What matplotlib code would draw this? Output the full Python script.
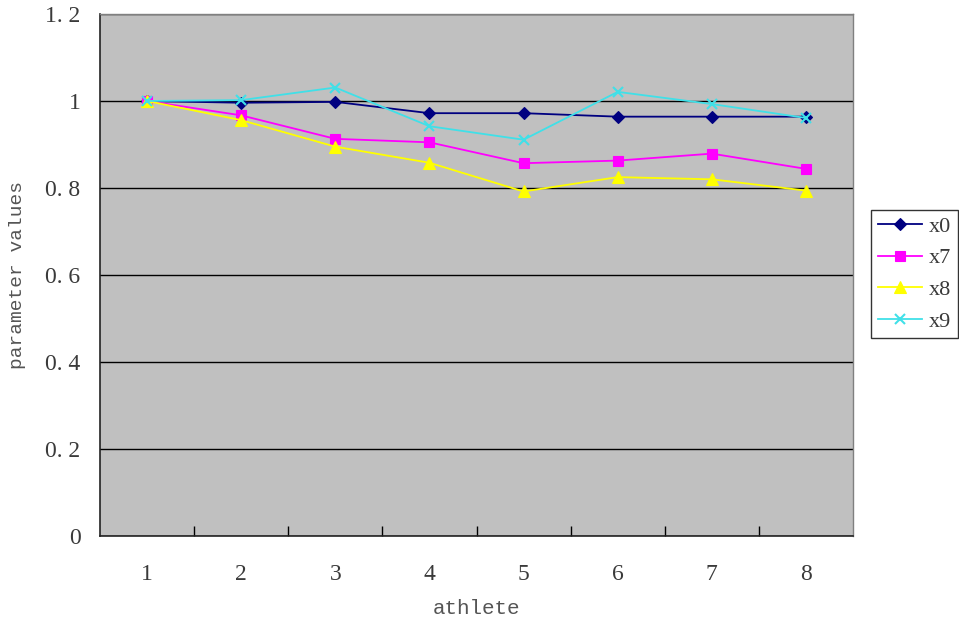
import matplotlib
matplotlib.use('Agg')
import matplotlib.pyplot as plt
import numpy as np

athletes = [1, 2, 3, 4, 5, 6, 7, 8]
x0 = [1.000, 0.996, 0.998, 0.972, 0.972, 0.964, 0.964, 0.964]
x7 = [1.000, 0.967, 0.913, 0.905, 0.857, 0.863, 0.879, 0.844]
x8 = [1.000, 0.956, 0.895, 0.858, 0.792, 0.825, 0.820, 0.794]
x9 = [1.000, 1.002, 1.031, 0.942, 0.911, 1.021, 0.993, 0.961]

series = [
    ('x0', x0, '#000080', 'D', 6),
    ('x7', x7, '#FF00FF', 's', 7),
    ('x8', x8, '#FFFF00', '^', 8),
    ('x9', x9, '#40E0E8', 'x', 7),
]

text_color = '#3a3a3a'
num_font = 'Liberation Serif'
lab_font = 'Liberation Mono'

fig = plt.figure(figsize=(9.59, 6.24), dpi=100)
ax = fig.add_axes([100 / 959, 88 / 624, 753 / 959, 522 / 624])
ax.set_facecolor('#C0C0C0')

for name, vals, col, mk, ms in series:
    ax.plot(athletes, vals, color=col, marker=mk, markersize=ms,
            markeredgewidth=1.5 if mk == 'x' else 0.8, linewidth=1.3,
            label=name)

ax.set_xlim(0.5, 8.5)
ax.set_ylim(0, 1.2)

ax.set_yticks(np.arange(0, 1.21, 0.2))
ax.set_yticklabels(['0', '0. 2', '0. 4', '0. 6', '0. 8', '1', '1. 2'],
                   fontfamily=num_font, fontsize=17, color=text_color)
ax.tick_params(axis='y', length=0, pad=14)
ax.yaxis.grid(True, color='black', linewidth=1)
ax.set_axisbelow(True)

# category labels at the centres, tick marks at the boundaries
ax.set_xticks(athletes)
ax.set_xticklabels([str(a) for a in athletes], fontfamily=num_font,
                   fontsize=17, color=text_color)
ax.tick_params(axis='x', which='major', length=0, pad=20)
ax.set_xticks(np.arange(1.5, 8.5, 1), minor=True)
ax.tick_params(axis='x', which='minor', direction='in', length=7,
               width=1, color='black')

for side in ['left', 'bottom']:
    ax.spines[side].set_color('#222222')
    ax.spines[side].set_linewidth(1.2)
for side in ['top', 'right']:
    ax.spines[side].set_color('#808080')
    ax.spines[side].set_linewidth(1)

ax.set_xlabel('athlete', fontfamily=lab_font, fontsize=15,
              color='#555555', labelpad=10)
ax.set_ylabel('parameter values', fontfamily=lab_font, fontsize=14,
              color='#555555', labelpad=14)

leg = fig.legend(loc='center left', bbox_to_anchor=(871 / 959, 1 - 274 / 624),
                 prop={'family': num_font, 'size': 16}, frameon=True,
                 fancybox=False, edgecolor='black', handlelength=2.0,
                 borderpad=0.3, labelspacing=0.5, handletextpad=0.3,
                 borderaxespad=0)
leg.get_frame().set_linewidth(1)
for t in leg.get_texts():
    t.set_color(text_color)

fig.savefig('out.png', dpi=100)
